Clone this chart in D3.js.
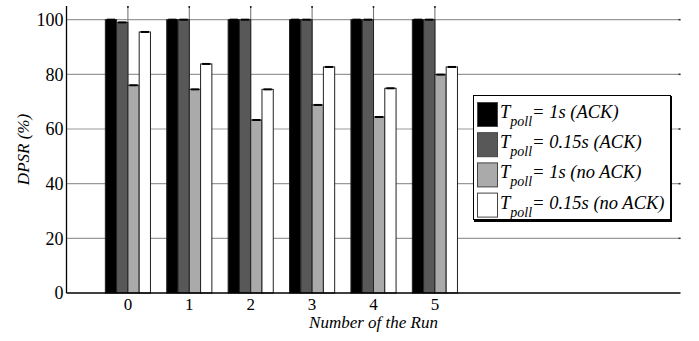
<!DOCTYPE html>
<html>
<head>
<meta charset="utf-8">
<script src="https://cdn.jsdelivr.net/npm/d3@7"></script>
<style>
  body { margin: 0; background: #fff; }
</style>
</head>
<body>
<div id="chart"></div>
<script>
// values
var runs = [0, 1, 2, 3, 4, 5];
var seriesNames = ["ack1", "ack015", "noack1", "noack015"];
var ack1s = [100, 100, 100, 100, 100, 100];
var ack015s = [99.0, 100, 100, 100, 100, 100];
var noack1s = [76.0, 74.5, 63.3, 68.8, 64.4, 79.9];
var noack015s = [95.5, 83.8, 74.5, 82.7, 74.9, 82.7];
var legendLabels = ["= 1s (ACK)", "= 0.15s (ACK)", "= 1s (no ACK)", "= 0.15s (no ACK)"];
var fills = ["#000000", "#585858", "#aaaaaa", "#ffffff"];
var yTicks = [0, 20, 40, 60, 80, 100];

var serif = "'Liberation Serif'";
var width = 699, height = 341;
var svg = d3.select("#chart").append("svg")
    .attr("width", width)
    .attr("height", height);

var x = d3.scaleLinear().domain([-1, 9]).range([66.5, 680.5]);
var y = d3.scaleLinear().domain([0, 105]).range([293, 6]);

var groupW = (x(1) - x(0)) * 0.735;
var x1 = d3.scaleBand().domain(seriesNames).range([-groupW / 2, groupW / 2]);

var rows = runs.map(function(r, i) {
  return {run: r, vals: [ack1s[i], ack015s[i], noack1s[i], noack015s[i]]};
});

// horizontal grid
svg.append("g").selectAll("line")
  .data(yTicks.slice(1))
  .enter().append("line")
  .attr("x1", x(-1)).attr("x2", x(9))
  .attr("y1", function(d) { return y(d); })
  .attr("y2", function(d) { return y(d); })
  .style("stroke", "#999").style("stroke-width", 1.2);

// little tick ends at the right
svg.append("g").selectAll("line")
  .data(yTicks.slice(1))
  .enter().append("line")
  .attr("x1", x(9) - 2).attr("x2", x(9))
  .attr("y1", function(d) { return y(d); })
  .attr("y2", function(d) { return y(d); })
  .style("stroke", "#333").style("stroke-width", 1.5);

// vertical grid at run ticks
svg.append("g").selectAll("line")
  .data(runs)
  .enter().append("line")
  .attr("x1", function(d) { return x(d); })
  .attr("x2", function(d) { return x(d); })
  .attr("y1", y(0)).attr("y2", y(105))
  .style("stroke", "#777").style("stroke-width", 1.1);

svg.append("g").selectAll("line")
  .data(runs)
  .enter().append("line")
  .attr("x1", function(d) { return x(d); })
  .attr("x2", function(d) { return x(d); })
  .attr("y1", y(105) + 2).attr("y2", y(105))
  .style("stroke", "#222").style("stroke-width", 1.5);

// bars
var groups = svg.append("g").selectAll("g")
  .data(rows)
  .enter().append("g")
  .attr("transform", function(d) { return "translate(" + x(d.run) + ",0)"; });

groups.selectAll("rect")
  .data(function(d) { return d.vals.map(function(v, j) { return {k: seriesNames[j], v: v, j: j}; }); })
  .enter().append("rect")
  .attr("x", function(d) { return x1(d.k); })
  .attr("width", x1.bandwidth())
  .attr("y", function(d) { return y(d.v); })
  .attr("height", function(d) { return y(0) - y(d.v); })
  .style("fill", function(d) { return fills[d.j]; })
  .style("stroke", "#222")
  .style("stroke-width", 1);

// tiny error caps
groups.selectAll("line.cap")
  .data(function(d) { return d.vals.map(function(v, j) { return {k: seriesNames[j], v: v}; }); })
  .enter().append("line")
  .attr("class", "cap")
  .attr("x1", function(d) { return x1(d.k) + 1.5; })
  .attr("x2", function(d) { return x1(d.k) + x1.bandwidth() - 1.5; })
  .attr("y1", function(d) { return y(d.v); })
  .attr("y2", function(d) { return y(d.v); })
  .style("stroke", "#000").style("stroke-width", 2);

// axes lines
svg.append("line")
  .attr("x1", x(-1)).attr("x2", x(-1))
  .attr("y1", y(0)).attr("y2", y(105))
  .style("stroke", "#000").style("stroke-width", 1.3);
svg.append("line")
  .attr("x1", x(-1)).attr("x2", x(9))
  .attr("y1", y(0)).attr("y2", y(0))
  .style("stroke", "#000").style("stroke-width", 1.3);

// tick labels
svg.append("g").selectAll("text")
  .data(yTicks)
  .enter().append("text")
  .attr("x", x(-1) - 3)
  .attr("y", function(d) { return y(d); })
  .attr("dy", "0.35em")
  .attr("text-anchor", "end")
  .style("font-family", serif)
  .style("font-size", "18px")
  .text(function(d) { return d; });

svg.append("g").selectAll("text")
  .data(runs)
  .enter().append("text")
  .attr("x", function(d) { return x(d); })
  .attr("y", 310)
  .attr("text-anchor", "middle")
  .style("font-family", serif)
  .style("font-size", "17px")
  .text(function(d) { return d; });

// axis titles
svg.append("text")
  .attr("x", (x(-1) + x(9)) / 2)
  .attr("y", 328)
  .attr("text-anchor", "middle")
  .style("font-family", serif)
  .style("font-size", "17px")
  .style("font-style", "italic")
  .text("Number of the Run");

svg.append("text")
  .attr("transform", "translate(29," + ((y(0) + y(105)) / 2) + ") rotate(-90)")
  .attr("text-anchor", "middle")
  .style("font-family", serif)
  .style("font-size", "17px")
  .style("font-style", "italic")
  .text("DPSR (%)");

// legend
var legend = svg.append("g");
legend.append("rect")
  .attr("x", 473.5).attr("y", 95.5)
  .attr("width", 197).attr("height", 124)
  .style("fill", "#fff").style("stroke", "#000").style("stroke-width", 1);
legend.append("path")
  .attr("d", "M671,96V221H474")
  .style("fill", "none").style("stroke", "#000").style("stroke-width", 2);

var items = legend.selectAll("g")
  .data(legendLabels)
  .enter().append("g")
  .attr("transform", function(d, i) { return "translate(0," + (102 + i * 30.2) + ")"; });

items.append("rect")
  .attr("x", 477.5).attr("y", 0.5)
  .attr("width", 20).attr("height", 24)
  .style("fill", function(d, i) { return fills[i]; })
  .style("stroke", "#444").style("stroke-width", 1);

var lt = items.append("text")
  .attr("x", 500)
  .attr("y", 16)
  .style("font-family", serif)
  .style("font-size", "18.5px")
  .style("font-style", "italic");
lt.append("tspan").text("T");
lt.append("tspan").attr("dy", 8).style("font-size", "14px").text("poll");
lt.append("tspan").attr("dy", -8).text(function(d) { return d; });
</script>
</body>
</html>
